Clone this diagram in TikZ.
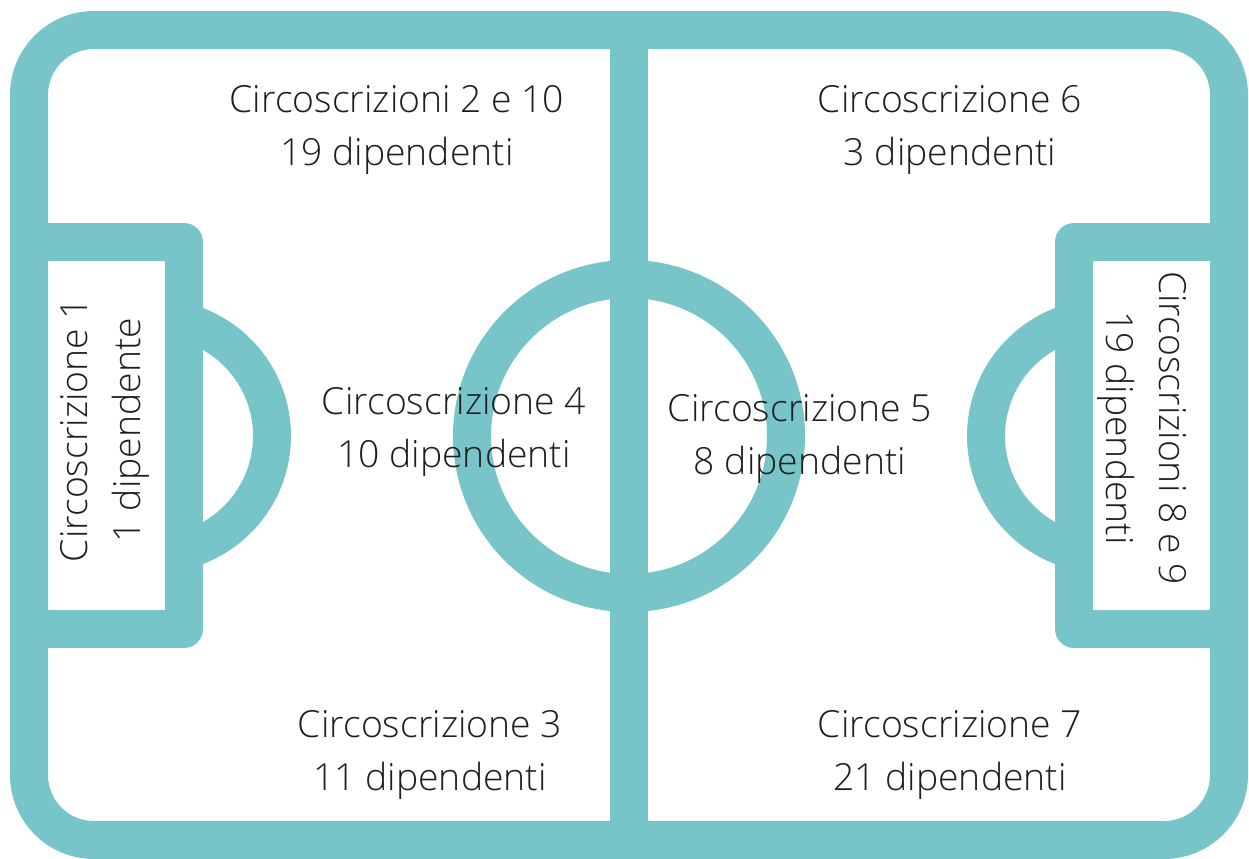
\documentclass[tikz,border=0pt]{standalone}
\usepackage{fontspec}
\IfFontExistsTF{Open Sans Light}{\setmainfont{Open Sans Light}}{\setmainfont{Open Sans}}
\definecolor{teal1}{HTML}{77C5C9}
\definecolor{ink}{HTML}{1E1E1E}
\begin{document}
\begin{tikzpicture}[x=0.75pt,y=-0.75pt,
  fieldline/.style={draw=teal1,line width=28.5pt},
  lbl/.style={align=center,text=ink,inner sep=0pt,font=\fontsize{28}{39.75}\selectfont}]
\useasboundingbox (0,0) rectangle (1249,858);
% outer boundary
\draw[fieldline,rounded corners=48.75pt] (29,30) rectangle (1229,840);
% half-way line
\coordinate (top) at (629,30);
\coordinate (bot) at (629,840);
\draw[fieldline] (top) -- (bot);
% centre circle
\coordinate (c) at (629,436);
\draw[fieldline] (c) circle[radius=157];
% penalty arcs
\draw[fieldline] (154,436) ++(-80:118) arc[start angle=-80,end angle=80,radius=118];
\draw[fieldline] (1104,436) ++(100:118) arc[start angle=100,end angle=260,radius=118];
% goal boxes
\draw[fieldline,line join=round] (29,242) -- (184,242) -- (184,629) -- (29,629);
\draw[fieldline,line join=round] (1229,242) -- (1074,242) -- (1074,629) -- (1229,629);
% labels
\node[lbl] (n210) at (397,130) {Circoscrizioni 2 e 10\\19 dipendenti};
\node[lbl] (n6) at (950,130) {Circoscrizione 6\\3 dipendenti};
\node[lbl] (n4) at (454,432) {Circoscrizione 4\\10 dipendenti};
\node[lbl] (n5) at (800,439) {Circoscrizione 5\\8 dipendenti};
\node[lbl] (n3) at (430,755) {Circoscrizione 3\\11 dipendenti};
\node[lbl] (n7) at (950,755) {Circoscrizione 7\\21 dipendenti};
\node[lbl,rotate=90] (n1) at (105,430) {Circoscrizione 1\\1 dipendente};
\node[lbl,rotate=-90] (n89) at (1142,428) {Circoscrizioni 8 e 9\\19 dipendenti};
\end{tikzpicture}
\end{document}
